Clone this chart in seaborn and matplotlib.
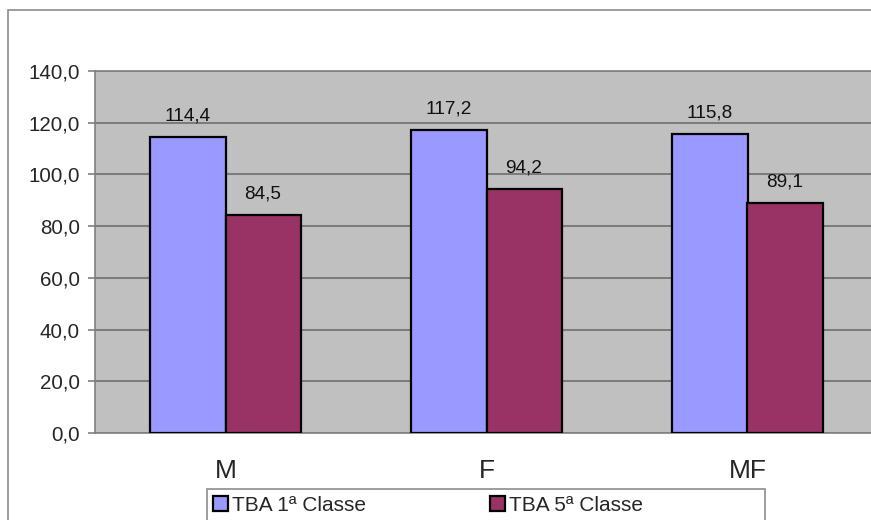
import pandas as pd
import matplotlib
matplotlib.use("Agg")
import matplotlib.pyplot as plt
import matplotlib.patches as mpatches
import seaborn as sns

categories = ["M", "F", "MF"]
series_names = ["TBA 1ª Classe", "TBA 5ª Classe"]
tba_1a = [114.4, 117.2, 115.8]
tba_5a = [84.5, 94.2, 89.1]
y_ticks = [0, 20, 40, 60, 80, 100, 120, 140]
colors = ["#9999FF", "#993366"]

df = pd.DataFrame({
    "categoria": categories * 2,
    "serie": [series_names[0]] * 3 + [series_names[1]] * 3,
    "valor": tba_1a + tba_5a,
})

sns.set_style("white")
plt.rcParams["font.family"] = ["Liberation Sans", "DejaVu Sans"]

fig = plt.figure(figsize=(8.71, 5.2), dpi=100)
W, H = 871, 520

# outer chart border (cut off at right and bottom like the screenshot)
fig.patches.append(mpatches.Rectangle((8 / W, -0.1), 1.2, (H - 10) / H + 0.1,
                                      transform=fig.transFigure, fill=False,
                                      edgecolor="#8c8c8c", linewidth=1.2))
# legend box (also cut off at the bottom)
fig.patches.append(mpatches.Rectangle((207 / W, -0.1), (765 - 207) / W,
                                      (H - 489) / H + 0.1,
                                      transform=fig.transFigure, fill=False,
                                      edgecolor="#8c8c8c", linewidth=1.2))

ax = fig.add_axes([95 / W, (H - 433) / H, 783 / W, 362 / H])
ax.set_facecolor("#C0C0C0")

sns.barplot(data=df, x="categoria", y="valor", hue="serie", order=categories,
            hue_order=series_names, palette=colors, saturation=1,
            width=0.575, gap=0, edgecolor="black", linewidth=1.6, ax=ax,
            zorder=3)

for cont in ax.containers:
    labels = [f"{b.get_height():.1f}".replace(".", ",") for b in cont]
    ax.bar_label(cont, labels=labels, padding=9, fontsize=13.7, color="#111111")

ax.set_xlim(-0.5, 2.5)
ax.set_ylim(0, 140)
ax.set_yticks(y_ticks)
ax.set_yticklabels([f"{t:.1f}".replace(".", ",") for t in y_ticks], fontsize=14.8)
ax.yaxis.grid(True, color="#6e6e6e", linewidth=1.2, zorder=0)
ax.set_axisbelow(True)

ax.set_xticks(range(len(categories)))
ax.set_xticklabels(categories, fontsize=19)
ax.set_xticks([-0.5, 0.5, 1.5], minor=True)
ax.tick_params(axis="x", which="major", length=0, pad=19)
ax.tick_params(axis="x", which="minor", length=5, color="#808080", width=1.2)
ax.tick_params(axis="y", length=5, color="#808080", width=1.2, pad=5.8, left=True)
ax.set_xlabel("")
ax.set_ylabel("")

for s in ax.spines.values():
    s.set_color("#808080")
    s.set_linewidth(1.2)

handles, labels = ax.get_legend_handles_labels()
ax.get_legend().remove()
leg = fig.legend(handles, labels, loc="upper left",
                 bbox_to_anchor=(209 / W, (H - 492) / H), ncol=2,
                 fontsize=15, frameon=False,
                 handlelength=0.72, handleheight=0.72, handletextpad=0.18,
                 columnspacing=5.95, borderpad=0.2, borderaxespad=0)

fig.savefig("out.png", dpi=100)
